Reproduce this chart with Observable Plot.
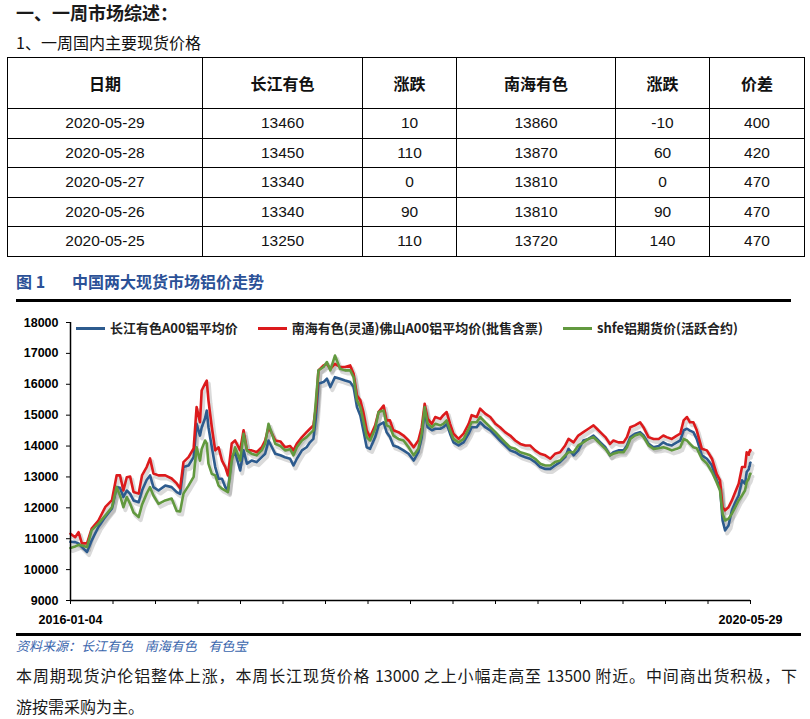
<!DOCTYPE html>
<html><head><meta charset="utf-8">
<script src="https://cdn.jsdelivr.net/npm/d3@7"></script>
<script src="https://cdn.jsdelivr.net/npm/@observablehq/plot@0.6"></script>
<style>
body{margin:0;background:#fff;font-family:"Noto Sans CJK SC","Liberation Sans",sans-serif;color:#111;}
#page{position:relative;width:810px;height:719px;overflow:hidden;}
.abs{position:absolute;white-space:nowrap;}
#h1{left:16px;top:0;font-size:18px;line-height:24px;font-weight:700;color:#1a1a1a;}
#h2{left:16px;top:32px;font-size:16px;line-height:20px;color:#111;}
#tbl{position:absolute;left:7px;top:57px;border-collapse:collapse;table-layout:fixed;width:797px;}
#tbl td,#tbl th{border:1px solid #000;text-align:center;padding:0;}
#tbl th{height:50px;font-size:16px;font-weight:700;color:#111;}
#tbl td{height:28.5px;font-size:15.5px;font-family:"Liberation Sans","Noto Sans CJK SC",sans-serif;color:#111;}
#ctitle{left:16px;top:271px;font-size:16px;line-height:20px;font-weight:700;color:#2b5197;}
#ctitle span{display:inline-block;}
.rule{position:absolute;background:#000;}
#chart{position:absolute;left:0;top:305px;}
#legend{position:absolute;left:76px;top:320px;height:16px;display:flex;align-items:center;font-size:13px;font-weight:700;color:#222;}
#legend .sw{width:29px;height:3px;margin-right:5px;}
#legend .lb{margin-right:20px;line-height:16px;}
#src{left:16px;top:638px;font-size:13px;line-height:16px;font-style:italic;color:#3a66ad;}
.body{position:absolute;left:16px;width:781px;font-size:16px;line-height:20px;color:#1a1a1a;}
</style></head><body>
<div id="page">
  <div class="abs" id="h1">一、一周市场综述：</div>
  <div class="abs" id="h2">1、一周国内主要现货价格</div>
  <table id="tbl"><colgroup></colgroup><thead><tr></tr></thead><tbody></tbody></table>
  <div class="abs" id="ctitle"><span style="width:56px">图 1</span><span>中国两大现货市场铝价走势</span></div>
  <div class="rule" style="left:16px;top:298.5px;width:775px;height:3px"></div>
  <div id="chart"></div>
  <div id="legend"></div>
  <div class="rule" style="left:16px;top:632.5px;width:785px;height:3px"></div>
  <div class="abs" id="src">资料来源：长江有色&nbsp;&nbsp;&nbsp;&nbsp;南海有色&nbsp;&nbsp;&nbsp;&nbsp;有色宝</div>
  <div class="body" style="top:665px;text-align:justify;text-align-last:justify;white-space:nowrap;">本周期现货沪伦铝整体上涨，本周长江现货价格 13000 之上小幅走高至 13500 附近。中间商出货积极，下</div>
  <div class="body" style="top:696px;">游按需采购为主。</div>
</div>
<script>
// ---- table data ----
const tableHeaders = ["日期","长江有色","涨跌","南海有色","涨跌","价差"];
const tableDates = ["2020-05-29","2020-05-28","2020-05-27","2020-05-26","2020-05-25"];
const cjPrice = [13460,13450,13340,13340,13250];
const cjChange = [10,110,0,90,110];
const nhPrice = [13860,13870,13810,13810,13720];
const nhChange = [-10,60,0,90,140];
const spread = [400,420,470,470,470];
const colWidths = [195,160,94,159,94,95];

// ---- chart data ----
const seriesNames = ["长江有色A00铝平均价","南海有色(灵通)佛山A00铝平均价(批售含票)","shfe铝期货价(活跃合约)"];
const seriesColors = ["#2d5b8e","#dc1a1c","#62993f"];
const yTicks = [9000,10000,11000,12000,13000,14000,15000,16000,17000,18000];
const xLabels = ["2016-01-04","2020-05-29"];

const dates = ["2016-01-04","2016-01-15","2016-01-23","2016-01-31","2016-02-12","2016-02-23","2016-03-10","2016-03-26","2016-04-11","2016-04-22","2016-04-30","2016-05-08","2016-05-16","2016-05-24","2016-06-01","2016-06-13","2016-06-21","2016-07-02","2016-07-10","2016-07-18","2016-07-30","2016-08-15","2016-08-30","2016-09-11","2016-09-19","2016-09-27","2016-10-09","2016-10-21","2016-10-28","2016-11-05","2016-11-09","2016-11-17","2016-11-21","2016-11-25","2016-12-03","2016-12-11","2016-12-19","2016-12-27","2017-01-04","2017-01-10","2017-01-19","2017-01-27","2017-02-08",
"2017-02-16","2017-02-24","2017-03-07","2017-03-19","2017-03-31","2017-04-08","2017-04-16","2017-04-24","2017-05-02","2017-05-14","2017-05-25","2017-06-06","2017-06-14","2017-06-22","2017-07-04","2017-07-15","2017-07-23","2017-07-31","2017-08-06","2017-08-12","2017-08-24","2017-09-01","2017-09-09","2017-09-20","2017-10-02","2017-10-14","2017-10-26","2017-11-03","2017-11-11","2017-11-19","2017-11-26","2017-12-04","2017-12-12","2017-12-24","2018-01-01","2018-01-13","2018-01-20","2018-01-28","2018-02-05","2018-02-17","2018-03-01","2018-03-13",
"2018-03-25","2018-04-05","2018-04-13","2018-04-20","2018-04-27","2018-05-07","2018-05-15","2018-05-27","2018-06-03","2018-06-11","2018-06-19","2018-06-27","2018-07-09","2018-07-21","2018-08-02","2018-08-09","2018-08-21","2018-08-29","2018-09-10","2018-09-22","2018-10-04","2018-10-15","2018-10-27","2018-11-08","2018-11-20","2018-12-02","2018-12-14","2018-12-25","2019-01-06","2019-01-18","2019-01-30","2019-02-11","2019-02-22","2019-03-06","2019-03-18","2019-03-26","2019-04-07","2019-04-18",
"2019-04-30","2019-05-12","2019-05-24","2019-06-01","2019-06-09","2019-06-21","2019-07-02","2019-07-10","2019-07-22","2019-08-03","2019-08-11","2019-08-19","2019-08-30","2019-09-11","2019-09-19","2019-10-01","2019-10-13","2019-10-25","2019-11-05","2019-11-13","2019-11-25","2019-12-07","2019-12-15","2019-12-23","2019-12-31","2020-01-07","2020-01-15","2020-01-23","2020-02-04","2020-02-16","2020-02-28","2020-03-10","2020-03-18","2020-03-24","2020-03-30","2020-04-07","2020-04-15","2020-04-23","2020-05-01","2020-05-09","2020-05-16","2020-05-20","2020-05-25","2020-05-26","2020-05-27","2020-05-28","2020-05-29"];

const changjiang = [10900,10890,10850,10730,10570,10940,11380,11700,11980,12670,12650,12350,12560,12450,12240,12180,12560,12900,13050,12670,12560,12720,12670,12510,12450,13320,13370,13640,14720,14340,14600,14900,15150,14610,13960,13320,12940,12940,12670,12560,13640,13800,13210,
13860,13430,13530,13480,13640,13750,14180,13960,13750,13700,13640,13590,13370,13590,13860,13960,14120,14230,14940,16020,16070,16180,15910,16230,16180,16120,16070,15910,15260,14990,14510,13960,13910,14290,14670,14770,14450,14290,14020,13960,13860,13750,
13530,13800,14290,15150,14610,14510,14560,14560,14610,14720,14400,14120,14020,14120,14400,14610,14610,14770,14610,14510,14340,14180,14020,13860,13800,13700,13640,13590,13480,13320,13260,13260,13370,13480,13640,13910,13700,13860,
14180,14230,14340,14230,14120,13960,13700,13800,13860,13860,14020,14290,14400,14450,14350,14070,13960,14000,14120,14060,14020,14120,14180,14510,14560,14500,14450,14230,13700,13590,13370,12890,12670,11590,11270,11430,11920,12180,12400,12890,12780,13160,13250,13340,13340,13450,13460];

const nanhai = [11160,11050,11210,10850,10850,11330,11590,12020,12250,13050,13050,12560,12990,13010,12510,12460,13050,13320,13600,13110,13050,13050,12950,12790,12630,13480,13640,13920,15260,14770,15800,16020,16120,15480,14610,13860,13960,13530,13320,13050,14080,14180,13860,
14510,13860,13860,13800,13960,14180,14610,14400,14180,14150,13960,14000,13860,14080,14290,14450,14560,14670,15260,16450,16610,16660,16500,16660,16560,16560,16610,16340,15640,15480,15100,14510,14290,14670,15100,15310,14830,14830,14510,14450,14340,14180,
13960,14180,14610,15370,14880,14720,14940,14880,15000,15100,14720,14400,14230,14400,14720,15000,14940,15210,15050,14940,14720,14610,14450,14340,14180,14070,14020,14020,13860,13750,13700,13590,13750,13800,14020,14230,14120,14340,
14450,14560,14670,14560,14450,14290,14070,14180,14120,14120,14290,14610,14670,14770,14610,14290,14230,14230,14340,14290,14230,14340,14400,14830,14940,14770,14770,14510,13910,13860,13590,13100,12890,12020,11920,12020,12240,12510,12780,13320,13320,13800,13720,13810,13810,13870,13860];

const shfe = [10700,10750,10800,10780,10730,11270,11490,11750,12020,12670,12400,12020,12350,12130,11850,11700,12100,12460,12670,12400,12130,12240,12300,11900,11880,12460,12720,13000,13960,13530,13900,14180,14080,13430,13100,13050,12720,12620,12560,12510,13530,13960,13530,
14400,13860,13750,13700,13860,14080,14720,14400,14070,14000,13860,13900,13700,13960,14180,14290,14400,14510,15480,16450,16560,16720,16450,16930,16500,16450,16450,16230,15480,15260,14830,14290,14180,14560,15100,15150,14670,14620,14340,14230,14180,13960,
13700,13910,14400,15260,14720,14610,14720,14670,14720,14830,14510,14230,14120,14230,14560,14770,14770,14940,14770,14610,14450,14290,14120,13960,13910,13800,13750,13700,13590,13430,13370,13370,13480,13530,13700,13800,13800,14020,
14120,14230,14290,14180,14070,13910,13700,13750,13800,13800,13960,14230,14340,14400,14300,14020,13910,13930,13960,13930,13860,13910,13960,14230,14180,14070,13960,13930,13590,13430,13160,12830,12560,11810,11590,11650,11810,12020,12240,12400,12560,12830,12950,13000,13050,13100,13100];

// ---- table ----
const tbl = d3.select("#tbl");
tbl.select("colgroup").selectAll("col").data(colWidths).join("col").style("width", d => d + "px");
tbl.select("thead tr").selectAll("th").data(tableHeaders).join("th").text(d => d);
const rows = tableDates.map((d, i) => [d, cjPrice[i], cjChange[i], nhPrice[i], nhChange[i], spread[i]]);
tbl.select("tbody").selectAll("tr").data(rows).join("tr")
  .selectAll("td").data(r => r).join("td").text(d => d);

// ---- chart ----
const parse = d3.utcParse("%Y-%m-%d");
const valueLists = [changjiang, nanhai, shfe];
const series = seriesNames.map((name, k) => ({
  name, color: seriesColors[k],
  rows: dates.map((d, i) => ({date: parse(d), value: valueLists[k][i]}))
}));
const xStart = parse(xLabels[0]), xEnd = parse(xLabels[1]);
const xTicks = d3.range(17).map(k => new Date(xStart.getTime() + k * (xEnd - xStart) / 16));
const fmt = d3.utcFormat("%Y-%m-%d");

const marks = [];
series.forEach(s => marks.push(Plot.lineY(s.rows, {x: "date", y: "value", stroke: "#7a7a7a", strokeWidth: 4, strokeOpacity: 0.28, dx: 2, dy: 3})));
series.forEach(s => marks.push(Plot.lineY(s.rows, {x: "date", y: "value", stroke: s.color, strokeWidth: 2.6})));
marks.push(Plot.ruleX([xStart], {stroke: "#000", strokeWidth: 1.5}));
marks.push(Plot.ruleY([yTicks[0]], {stroke: "#000", strokeWidth: 1.5}));
marks.push(Plot.axisY({ticks: yTicks, tickSize: 4, tickPadding: 8, label: null, tickFormat: d => String(d), stroke: "#000"}));
marks.push(Plot.axisX({ticks: xTicks, tickSize: 4, tickPadding: 11, label: null, stroke: "#000",
  tickFormat: d => { const s = fmt(d); return xLabels.includes(s) ? s : ""; }}));

const chart = Plot.plot({
  width: 810, height: 325,
  marginLeft: 70, marginRight: 60, marginTop: 17, marginBottom: 30,
  x: {type: "utc", domain: [xStart, xEnd], label: null},
  y: {domain: [yTicks[0], yTicks[yTicks.length - 1]], label: null},
  style: {fontFamily: "'Liberation Sans', Arial, sans-serif", fontSize: "12.5px", fontWeight: "bold", color: "#000", background: "transparent", overflow: "visible"},
  marks
});
document.getElementById("chart").appendChild(chart);

// ---- legend ----
const lg = d3.select("#legend");
series.forEach(s => {
  lg.append("div").attr("class", "sw").style("background", s.color);
  lg.append("div").attr("class", "lb").text(s.name);
});
</script>
</body></html>
